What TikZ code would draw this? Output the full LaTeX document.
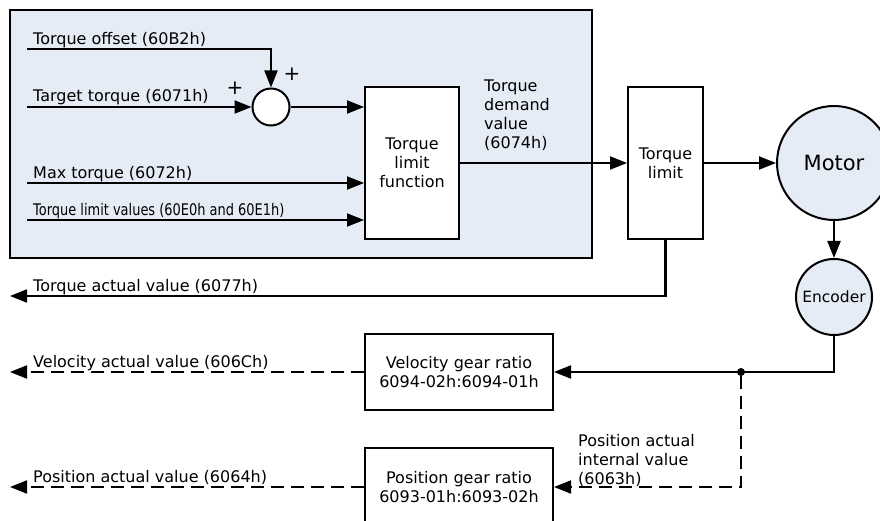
\documentclass[tikz,border=0pt]{standalone}
\usepackage{fontspec}
\setmainfont{DejaVu Sans}
\definecolor{ctrlblue}{RGB}{230, 236, 246}
\usetikzlibrary{arrows.meta, positioning, calc}
\newcommand{\sigfont}{\fontsize{16}{19}\selectfont}
\tikzset{
  blkbox/.style={draw, line width=2pt, fill=white, align=center, inner sep=2pt},
  roundnode/.style={circle, draw, line width=2pt, fill=ctrlblue, inner sep=0pt},
  sigline/.style={line width=2.1pt},
  sigarrow/.style={sigline, -{Triangle[length=17pt, width=13pt]}},
  dasharrow/.style={sigarrow, dash pattern=on 13pt off 7pt},
  siglabel/.style={anchor=base west, inner sep=0pt},
}

\begin{document}
\begin{tikzpicture}[x=1pt, y=-1pt, every node/.style={font=\sigfont}]
  \clip (0,0) rectangle (880,521);
  \draw[line width=2pt, fill=ctrlblue] (10,10) rectangle (592,258);

  \node[circle, draw, line width=2pt, fill=white, minimum size=37pt] (sum) at (271,107) {};
  \node[blkbox, minimum width=94pt, minimum height=152pt] (tlf) at (412,163) {Torque\\limit\\function};
  \node[blkbox, minimum width=75pt, minimum height=152pt] (tl) at (665.5,163) {Torque\\limit};
  \node[roundnode, minimum size=114pt, font=\fontsize{21}{24}\selectfont] (motor) at (834,163) {Motor};
  \node[roundnode, minimum size=76pt, font=\fontsize{15.5}{17}\selectfont] (enc) at (834,297) {Encoder};
  \node[blkbox, minimum width=188pt, minimum height=76pt] (vgr) at (459,372) {Velocity gear ratio\\6094-02h:6094-01h};
  \node[blkbox, minimum width=188pt, minimum height=78pt] (pgr) at (459,487) {Position gear ratio\\6093-01h:6093-02h};

  \coordinate (ofsin) at (27,49);
  \coordinate (tgtin) at (27,107);
  \coordinate (maxin) at (27,183);
  \coordinate (limin) at (27,220);
  \coordinate (tavout) at (10,296);
  \coordinate (vavout) at (10,372);
  \coordinate (pavout) at (10,487);
  \node[circle, fill, inner sep=0pt, minimum size=8pt] (jct) at (741,372) {};

  \node[siglabel] (ofslbl) at (33,44.5) {Torque offset (60B2h)};
  \node[siglabel] (tgtlbl) at (33,102) {Target torque (6071h)};
  \node[siglabel] (maxlbl) at (33,178.5) {Max torque (6072h)};
  \node[siglabel, xscale=0.81] (limlbl) at (33,215.5) {Torque limit values (60E0h and 60E1h)};
  \node[siglabel] (tavlbl) at (33,291.5) {Torque actual value (6077h)};
  \node[siglabel] (vavlbl) at (33,367.5) {Velocity actual value (606Ch)};
  \node[siglabel] (pavlbl) at (33,482.5) {Position actual value (6064h)};
  \node[anchor=west, align=left, inner sep=0pt] (tdvlbl) at (484,115) {Torque\\demand\\value\\(6074h)};
  \node[anchor=west, align=left, inner sep=0pt] (paivlbl) at (578,460) {Position actual\\internal value\\(6063h)};
  \node[font=\fontsize{20}{20}\selectfont] (plusa) at (292,74) {+};
  \node[font=\fontsize{20}{20}\selectfont] (plusb) at (235,88) {+};

  \draw[sigarrow] (ofsin) -| (sum.north);
  \draw[sigarrow] (tgtin) -- (sum.west);
  \draw[sigarrow] (sum.east) -- (sum.east -| tlf.west);
  \draw[sigarrow] (maxin) -- (maxin -| tlf.west);
  \draw[sigarrow] (limin) -- (limin -| tlf.west);
  \draw[sigarrow] (tlf.east) -- (tl.west);
  \draw[sigarrow] (tl.east) -- (motor.west);
  \draw[sigarrow] (motor.south) -- (enc.north);
  \draw[sigarrow] (tl.south) |- (tavout);
  \draw[sigarrow] (enc.south) |- (vgr.east);
  \draw[dasharrow] (jct) |- (pgr.east);
  \draw[dasharrow] (vgr.west) -- (vavout);
  \draw[dasharrow] (pgr.west) -- (pavout);
\end{tikzpicture}
\end{document}
